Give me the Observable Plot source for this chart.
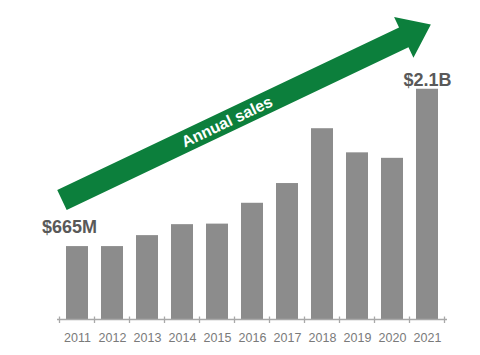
<!DOCTYPE html>
<html><head><meta charset="utf-8">
<script src="https://cdn.jsdelivr.net/npm/d3@7"></script>
<script src="https://cdn.jsdelivr.net/npm/@observablehq/plot@0.6"></script>
<style>body{margin:0;background:#fff}</style>
</head><body><div id="chart"></div>
<script>
const years = ["2011","2012","2013","2014","2015","2016","2017","2018","2019","2020","2021"];
const sales = [665, 665, 765, 865, 870, 1060, 1240, 1740, 1520, 1470, 2100];
const labelYears = ["2011", "2021"];
const labelTexts = ["$665M", "$2.1B"];
const arrowYears = [2010.57, 2021.11];
const arrowValues = [1085, 2686];
const arrowText = "Annual sales";

const data = years.map((year, i) => ({year, sales: sales[i]}));
const labels = labelYears.map((year, i) => ({year, text: labelTexts[i], sales: sales[years.indexOf(year)]}));

const sans = "'Liberation Sans', Arial, sans-serif";
const narrow = "'Liberation Sans Narrow', 'Arial Narrow', 'Liberation Sans', sans-serif";

const chart = Plot.plot({
  width: 480, height: 355,
  marginTop: 20, marginBottom: 36, marginLeft: 57, marginRight: 33,
  style: {fontFamily: narrow, background: "#fff", overflow: "visible"},
  x: {domain: years, paddingInner: 0.37, paddingOuter: 0.185},
  y: {domain: [0, 2727], axis: null},
  marks: [
    Plot.barY(data, {x: "year", y: "sales", fill: "#8c8c8c"}),
    Plot.ruleY([0], {stroke: "#a8a8a8", strokeWidth: 1.3}),
    Plot.axisX({tickSize: 0, tickPadding: 14, fontSize: 12.5, color: "#7a7a7a", fontFamily: narrow, label: null}),
    Plot.text([labels[0]], {x: "year", y: "sales", text: "text", dx: -8, dy: -19, fontSize: 18, fontWeight: "bold", fill: "#595959", fontFamily: sans}),
    Plot.text([labels[1]], {x: "year", y: "sales", text: "text", dx: 0, dy: -9, fontSize: 18, fontWeight: "bold", fill: "#595959", fontFamily: sans})
  ]
});
document.getElementById("chart").append(chart);

// boundary ticks and arrow, positioned via the plot's own scales
const sx = chart.scale("x"), sy = chart.scale("y");
const step = sx.step, bw = sx.bandwidth;
const svg = d3.select(chart);
const y0 = sy.apply(0);
const gap = (step - bw) / 2;
const bounds = years.map(y => sx.apply(y) - gap).concat([sx.apply(years[years.length - 1]) + bw + gap]);
const tg = svg.append("g").attr("stroke", "#a8a8a8").attr("stroke-width", 1.3);
bounds.forEach(b => tg.append("line").attr("x1", b).attr("x2", b).attr("y1", y0 - 2.5).attr("y2", y0 + 4));

const px = v => sx.apply(years[0]) + bw / 2 + (v - +years[0]) * step;
const t = [px(arrowYears[0]), sy.apply(arrowValues[0])];
const h = [px(arrowYears[1]), sy.apply(arrowValues[1])];
const dx = h[0] - t[0], dy = h[1] - t[1], len = Math.hypot(dx, dy);
const u = [dx / len, dy / len], n = [-u[1], u[0]];
const W = 22, HW = 45, HL = 30;
const base = [h[0] - u[0] * HL, h[1] - u[1] * HL];
const P = (p, k) => [p[0] + n[0] * k, p[1] + n[1] * k];
const pts = [P(t, W/2), P(base, W/2), P(base, HW/2), h, P(base, -HW/2), P(base, -W/2), P(t, -W/2)];
svg.append("polygon").attr("points", pts.map(p => p.join(",")).join(" ")).attr("fill", "#0c7f3c");
const f = 0.447;
const c = [t[0] + dx * f, t[1] + dy * f];
const ang = Math.atan2(dy, dx) * 180 / Math.PI;
svg.append("text").attr("transform", `translate(${c[0]},${c[1]}) rotate(${ang})`)
  .attr("text-anchor", "middle").attr("dy", "0.35em")
  .attr("font-family", sans).attr("font-weight", "bold").attr("font-size", 16)
  .attr("fill", "#fff").text(arrowText);
</script>
</body></html>
